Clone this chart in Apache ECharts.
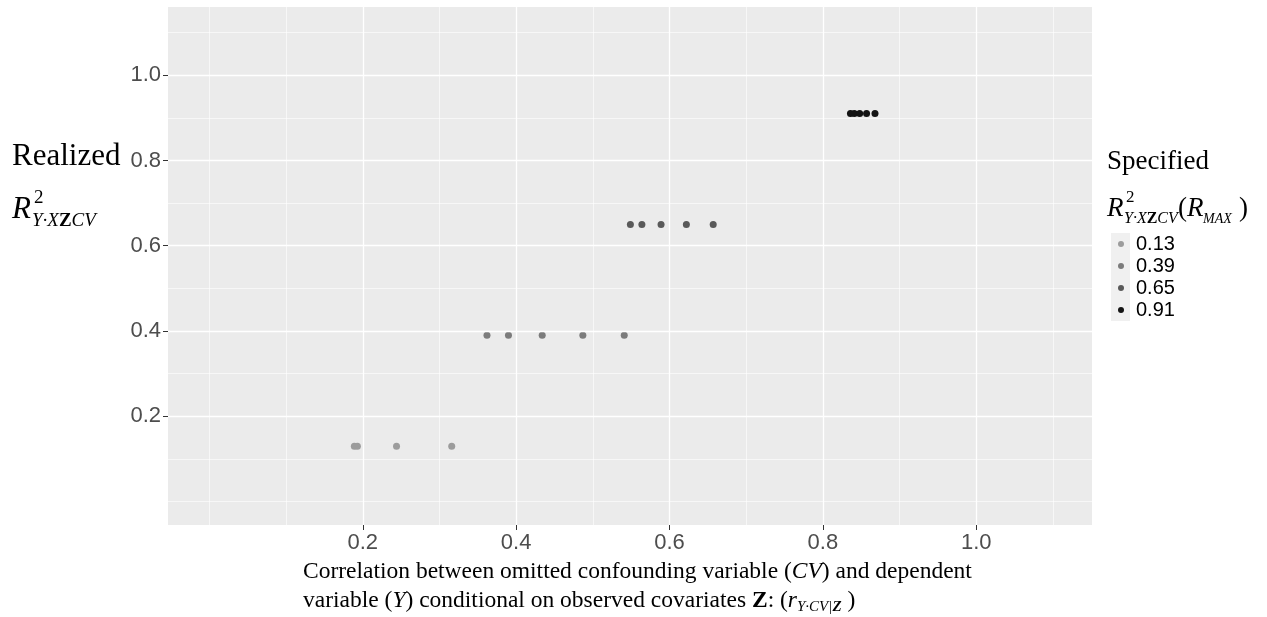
<!DOCTYPE html>
<html>
<head>
<meta charset="utf-8">
<script src="https://cdn.jsdelivr.net/npm/echarts@6/dist/echarts.min.js"></script>
<style>
  html, body { margin: 0; padding: 0; background: #fff; }
  #chart { width: 1267px; height: 617px; }
</style>
</head>
<body>
<div id="chart"></div>
<script>
// specified R^2 levels (legend) and their grey shades
const specified = ["0.13", "0.39", "0.65", "0.91"];
const colors = ["#9c9c9c", "#7c7c7c", "#595959", "#141414"];

// realized R^2 for each level (y)
const realized = [0.13, 0.39, 0.65, 0.91];

// correlation r(Y.CV|Z) for each level (x)
const corr13 = [0.189, 0.193, 0.244, 0.316];
const corr39 = [0.362, 0.390, 0.434, 0.487, 0.541];
const corr65 = [0.549, 0.564, 0.589, 0.622, 0.657];
const corr91 = [0.836, 0.841, 0.848, 0.857, 0.868];
const corrs = [corr13, corr39, corr65, corr91];

// axis breaks
const xTicks = [0.2, 0.4, 0.6, 0.8, 1.0];
const yTicks = [0.2, 0.4, 0.6, 0.8, 1.0];
const minorBreaks = [0.0, 0.1, 0.3, 0.5, 0.7, 0.9, 1.1];

const chart = echarts.init(document.getElementById("chart"));

const serif = '"Liberation Serif", "Times New Roman", serif';
const sans = '"Liberation Sans", Arial, sans-serif';

let gridLines = [];
minorBreaks.forEach(v => {
  gridLines.push({ xAxis: v, lineStyle: { width: 0.6 } });
  gridLines.push({ yAxis: v, lineStyle: { width: 0.6 } });
});
xTicks.forEach(v => gridLines.push({ xAxis: v, lineStyle: { width: 1.3 } }));
yTicks.forEach(v => gridLines.push({ yAxis: v, lineStyle: { width: 1.3 } }));

let series = [{
  type: "scatter",
  data: [],
  silent: true,
  z: 1,
  markLine: {
    silent: true,
    symbol: ["none", "none"],
    label: { show: false },
    lineStyle: { color: "#ffffff", type: "solid" },
    emphasis: { disabled: true },
    animation: false,
    data: gridLines
  }
}];

specified.forEach((name, i) => {
  series.push({
    name: name,
    type: "scatter",
    z: 3,
    symbolSize: 7,
    itemStyle: { color: colors[i], opacity: 1 },
    data: corrs[i].map(x => [x, realized[i]])
  });
});

function txt(x, y, text, font, extra) {
  return {
    type: "text",
    x: x,
    y: y,
    silent: true,
    style: Object.assign({
      text: text,
      font: font,
      fill: "#000",
      textVerticalAlign: "middle",
      verticalAlign: "middle"
    }, extra || {})
  };
}

const subRich = {
  a: { font: "italic 19px " + serif, fill: "#000" },
  b: { font: "bold 19px " + serif, fill: "#000" }
};
const subRichSmall = {
  a: { font: "italic 16px " + serif, fill: "#000" },
  b: { font: "bold 16px " + serif, fill: "#000" }
};

function axisCommon(ticks) {
  return {
    type: "value",
    splitLine: { show: false },
    axisLine: { show: true, onZero: false, lineStyle: { color: "rgba(0,0,0,0)" } },
    axisTick: {
      show: true,
      length: 5,
      customValues: ticks,
      lineStyle: { color: "#333333", width: 1 }
    },
    axisLabel: {
      customValues: ticks,
      formatter: v => v.toFixed(1),
      color: "#4d4d4d",
      fontFamily: sans,
      fontSize: 22,
      margin: 7
    }
  };
}

let option = {
  animation: false,
  backgroundColor: "#ffffff",
  grid: {
    left: 168,
    right: 175,
    top: 7,
    bottom: 92,
    show: true,
    backgroundColor: "#ebebeb",
    borderWidth: 0
  },
  xAxis: Object.assign(axisCommon(xTicks), { min: -0.054, max: 1.151 }),
  yAxis: Object.assign(axisCommon(yTicks), { min: -0.055, max: 1.160 }),
  legend: {
    data: specified,
    orient: "vertical",
    left: 1118,
    top: 233,
    padding: 0,
    itemGap: 0,
    itemWidth: 6,
    itemHeight: 6,
    icon: "circle",
    selectedMode: false,
    textStyle: {
      color: "#000",
      fontFamily: sans,
      fontSize: 20,
      lineHeight: 22,
      padding: [0, 0, 0, 7]
    }
  },
  graphic: [
    // legend key background
    {
      type: "rect",
      shape: { x: 1111, y: 233, width: 19, height: 88 },
      style: { fill: "#f0f0f0" },
      silent: true,
      z: -1
    },
    // y axis title
    txt(12, 157, "Realized", "31px " + serif),
    txt(12, 210, "R", "italic 31px " + serif),
    txt(34, 198, "2", "19px " + serif),
    txt(32, 221, "{a|Y·X}{b|Z}{a|CV}", "italic 19px " + serif, { rich: subRich }),
    // legend title
    txt(1107, 162, "Specified", "27px " + serif),
    txt(1107, 209, "R", "italic 27px " + serif),
    txt(1126, 198, "2", "17px " + serif),
    txt(1124, 219, "{a|Y·X}{b|Z}{a|CV}", "italic 16px " + serif, { rich: subRichSmall }),
    txt(1178, 209, "(", "27px " + serif),
    txt(1187, 209, "R", "italic 27px " + serif),
    txt(1203, 219, "MAX", "italic 14px " + serif),
    txt(1239, 209, ")", "27px " + serif),
    // x axis title
    {
      type: "text",
      x: 303,
      y: 572,
      silent: true,
      style: {
        text: "{n|Correlation between omitted confounding variable (}{i|CV}{n|) and dependent}",
        font: "23.5px " + serif,
        fill: "#000",
        textVerticalAlign: "middle",
        verticalAlign: "middle",
        rich: {
          n: { font: "23.5px " + serif, fill: "#000" },
          i: { font: "italic 23.5px " + serif, fill: "#000" }
        }
      }
    },
    {
      type: "text",
      x: 303,
      y: 601,
      silent: true,
      style: {
        text: "{n|variable (}{i|Y}{n|) conditional on observed covariates }{b|Z}{n|: (}{i|r}{s|Y·CV|}{sb|Z}{n| )}",
        font: "23.5px " + serif,
        fill: "#000",
        textVerticalAlign: "middle",
        verticalAlign: "middle",
        rich: {
          n: { font: "23.5px " + serif, fill: "#000" },
          i: { font: "italic 23.5px " + serif, fill: "#000" },
          b: { font: "bold 23.5px " + serif, fill: "#000" },
          s: { font: "italic 15px " + serif, fill: "#000", padding: [12, 0, 0, 0] },
          sb: { font: "bold italic 15px " + serif, fill: "#000", padding: [12, 0, 0, 0] }
        }
      }
    }
  ],
  series: series
};

chart.setOption(option);
window.addEventListener("resize", () => chart.resize());
</script>
</body>
</html>
